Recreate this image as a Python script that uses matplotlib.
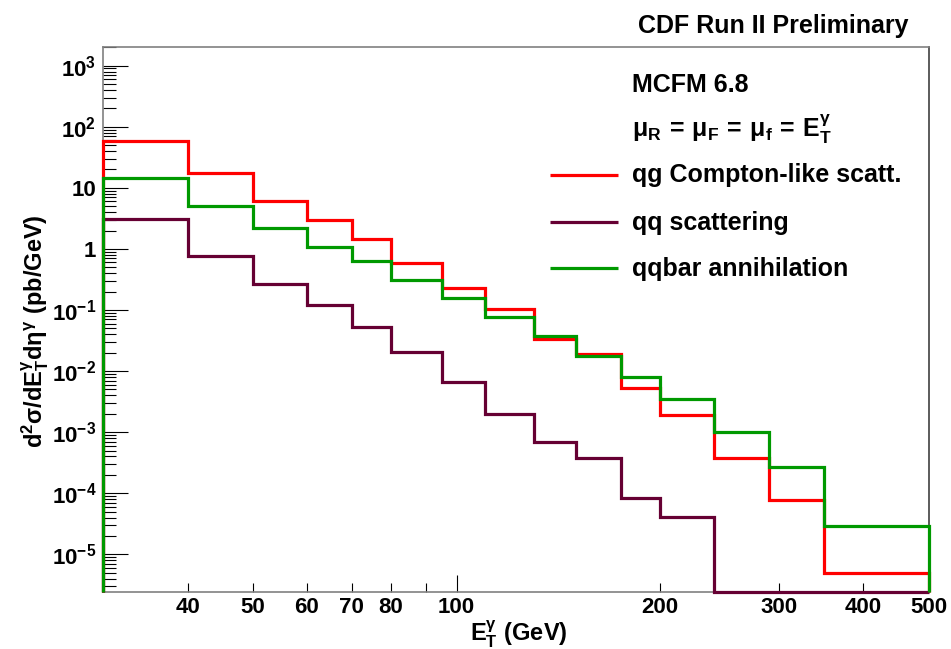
import numpy as np
import matplotlib
matplotlib.use("Agg")
import matplotlib.pyplot as plt
from matplotlib.ticker import FixedLocator, LogLocator, NullFormatter

plt.rcParams['font.family'] = ['Liberation Sans', 'DejaVu Sans']
plt.rcParams['font.weight'] = 'bold'
plt.rcParams['mathtext.fontset'] = 'custom'
plt.rcParams['mathtext.rm'] = 'Liberation Sans'
plt.rcParams['mathtext.bf'] = 'Liberation Sans:bold'
plt.rcParams['mathtext.it'] = 'Liberation Sans:italic'

# bin edges in E_T (GeV) and cross sections (pb/GeV)
edges = [30, 40, 50, 60, 70, 80, 95, 110, 130, 150, 175, 200, 240, 290, 350, 500]
compton = [59.2, 17.7, 6.09, 2.98, 1.44, 0.595, 0.227, 0.102, 0.0332, 0.0188,
           0.00535, 0.00191, 3.78e-4, 7.67e-5, 5.0e-6]
qq_scat = [3.05, 0.766, 0.267, 0.121, 0.0533, 0.0208, 0.0067, 0.00199, 6.98e-4,
           3.73e-4, 8.46e-5, 4.13e-5, 0, 0, 0]
qqbar = [14.3, 5.10, 2.18, 1.09, 0.642, 0.310, 0.156, 0.076, 0.0376, 0.0179,
         0.0081, 0.00349, 9.95e-4, 2.66e-4, 2.91e-5]

names = ["qg Compton-like scatt.", "qq scattering", "qqbar annihilation"]
colors = ["#ff0000", "#660033", "#009900"]

xticks = [40, 50, 60, 70, 80, 100, 200, 300, 400, 500]
ymin, ymax = 2.44e-6, 2.05e3

fig = plt.figure(figsize=(9.51, 6.49), dpi=100)
ax = fig.add_axes([0.1086, 0.0883, 0.8682, 0.8398])
ax.set_xscale('log')
ax.set_yscale('log')
ax.set_xlim(30, 500)
ax.set_ylim(ymin, ymax)

for vals, col in zip([compton, qq_scat, qqbar], colors):
    h = ax.stairs(np.maximum(np.array(vals), ymin), edges, baseline=ymin,
                  color=col, lw=2.3, clip_on=False, zorder=3)
    h.set_joinstyle('miter')

# axes / ticks, ROOT style
for s in ax.spines.values():
    s.set_color('#808080')
    s.set_linewidth(1.2)
ax.spines['right'].set_color('#404040')

ax.xaxis.set_major_locator(FixedLocator(xticks))
ax.xaxis.set_minor_locator(FixedLocator([90]))
ax.set_xticklabels([str(t) for t in xticks])
ax.xaxis.set_minor_formatter(NullFormatter())
ax.tick_params(axis='x', which='both', direction='in', length=6.5, width=0.8,
               labelsize=16, pad=4, top=False)
ax.xaxis.get_major_ticks()[5].tick1line.set_markersize(12.5)

ax.yaxis.set_major_locator(FixedLocator([10.0 ** k for k in range(-5, 4)]))
ylabels = []
for k in range(-5, 4):
    if k == 0:
        ylabels.append('1')
    elif k == 1:
        ylabels.append('10')
    else:
        ylabels.append(r'$\mathbf{10^{%d}}$' % k)
ax.set_yticklabels(ylabels)
ax.yaxis.set_minor_locator(LogLocator(base=10, subs=np.arange(2, 10), numticks=100))
ax.yaxis.set_minor_formatter(NullFormatter())
ax.tick_params(axis='y', which='major', direction='in', length=18, width=0.8,
               labelsize=16, pad=5, right=False)
ax.tick_params(axis='y', which='minor', direction='in', length=9.5, width=0.8,
               right=False)

ax.text(0.5035, -0.0917,
        r'$\mathbf{E}_{\mathbf{T}}^{\mathrm{\gamma}}\mathbf{\ (GeV)}$',
        transform=ax.transAxes, ha='center', va='baseline', fontsize=17)
fig.text(0.037, 0.49,
         r'$\mathbf{d}^{\mathbf{2}}\mathrm{\sigma}\mathbf{/dE}_{\mathbf{T}}^{\mathrm{\gamma}}'
         r'\mathbf{d}\mathrm{\eta}^{\mathrm{\gamma}}\mathbf{\ (pb/GeV)}$',
         rotation=90, ha='center', va='center', fontsize=17)

fig.text(0.9548, 0.9487, "CDF Run II Preliminary", ha='right', va='baseline',
         fontsize=18)

# legend block
ax.text(0.640, 0.9174, "MCFM 6.8", transform=ax.transAxes, ha='left',
        va='baseline', fontsize=18)
ax.text(0.640, 0.8349,
        r'$\mathrm{\mu}_{\mathbf{R}}\,\mathbf{=}\,\mathrm{\mu}_{\mathbf{F}}\,\mathbf{=}\,'
        r'\mathrm{\mu}_{\mathbf{f}}\,\mathbf{=}\,\mathbf{E}_{\mathbf{T}}^{\mathrm{\gamma}}$',
        transform=ax.transAxes, ha='left', va='baseline', fontsize=18)
line_y = [0.7646, 0.679, 0.5934]
text_y = [0.7511, 0.6636, 0.5793]
for name, col, ly, ty in zip(names, colors, line_y, text_y):
    ax.plot([0.541, 0.624], [ly, ly], color=col, lw=2.3, transform=ax.transAxes,
            solid_capstyle='butt')
    ax.text(0.640, ty, name, transform=ax.transAxes, ha='left', va='baseline',
            fontsize=18)

fig.savefig("out.png", dpi=100)
